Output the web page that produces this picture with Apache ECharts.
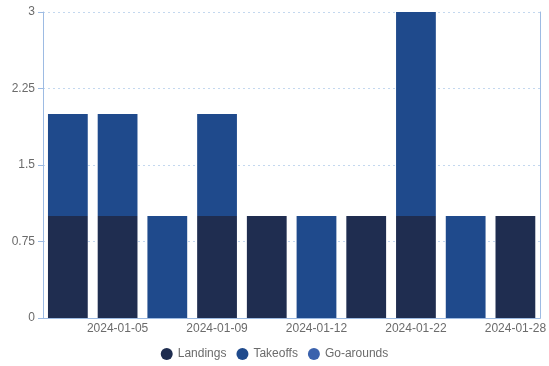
<!DOCTYPE html>
<html>
<head>
<meta charset="utf-8">
<script src="https://cdn.jsdelivr.net/npm/echarts@6/dist/echarts.min.js"></script>
<style>
  html, body { margin: 0; padding: 0; background: #fff; }
  #chart { width: 549px; height: 366px; }
</style>
</head>
<body>
<div id="chart"></div>
<script>
// Daily flight movements, stacked by type
const dates = ['2024-01-03', '2024-01-05', '2024-01-07', '2024-01-09', '2024-01-10',
               '2024-01-12', '2024-01-15', '2024-01-22', '2024-01-25', '2024-01-28'];
const landings  = [1, 1, 0, 1, 1, 0, 1, 1, 0, 1];
const takeoffs  = [1, 1, 1, 1, 0, 1, 0, 2, 1, 0];
const goArounds = [0, 0, 0, 0, 0, 0, 0, 0, 0, 0];
const yTicks = [0, 0.75, 1.5, 2.25, 3];

const axisBlue = '#9dbbe3';
const textGray = '#6b6b6b';
const font = 'Liberation Sans, Arial, sans-serif';

const chart = echarts.init(document.getElementById('chart'));
chart.setOption({
  animation: false,
  grid: { left: 43, right: 7, top: 12, bottom: 48 },
  legend: {
    bottom: 1,
    left: 'center',
    icon: 'circle',
    itemWidth: 12,
    itemHeight: 12,
    itemGap: 10,
    textStyle: { color: textGray, fontSize: 12, fontFamily: font },
    data: ['Landings', 'Takeoffs', 'Go-arounds']
  },
  xAxis: {
    type: 'category',
    data: dates,
    axisLine: { lineStyle: { color: axisBlue } },
    axisTick: { alignWithLabel: true, interval: (i) => i % 2 === 1, lineStyle: { color: axisBlue } },
    axisLabel: {
      interval: (i) => i % 2 === 1,
      margin: 5,
      color: textGray,
      fontSize: 12,
      fontFamily: font
    }
  },
  yAxis: [{
    type: 'value',
    min: yTicks[0],
    max: yTicks[yTicks.length - 1],
    interval: yTicks[1] - yTicks[0],
    axisLine: { show: true, lineStyle: { color: axisBlue } },
    axisTick: { show: true, lineStyle: { color: axisBlue } },
    axisLabel: { color: textGray, fontSize: 12, fontFamily: font },
    splitLine: { lineStyle: { color: '#c4d8ef', type: [2, 3] } }
  }, {
    // plain frame line on the right edge of the plot
    type: 'value',
    position: 'right',
    min: yTicks[0],
    max: yTicks[yTicks.length - 1],
    interval: yTicks[1] - yTicks[0],
    axisLine: { show: true, lineStyle: { color: axisBlue } },
    axisTick: { show: false },
    axisLabel: { show: false },
    splitLine: { show: false }
  }],
  series: [
    { name: 'Landings', type: 'bar', stack: 'total', data: landings, barCategoryGap: '20%',
      itemStyle: { color: '#1f2d50' } },
    { name: 'Takeoffs', type: 'bar', stack: 'total', data: takeoffs,
      itemStyle: { color: '#1f4a8c' } },
    { name: 'Go-arounds', type: 'bar', stack: 'total', data: goArounds,
      itemStyle: { color: '#3b62ad' } }
  ]
});
</script>
</body>
</html>
